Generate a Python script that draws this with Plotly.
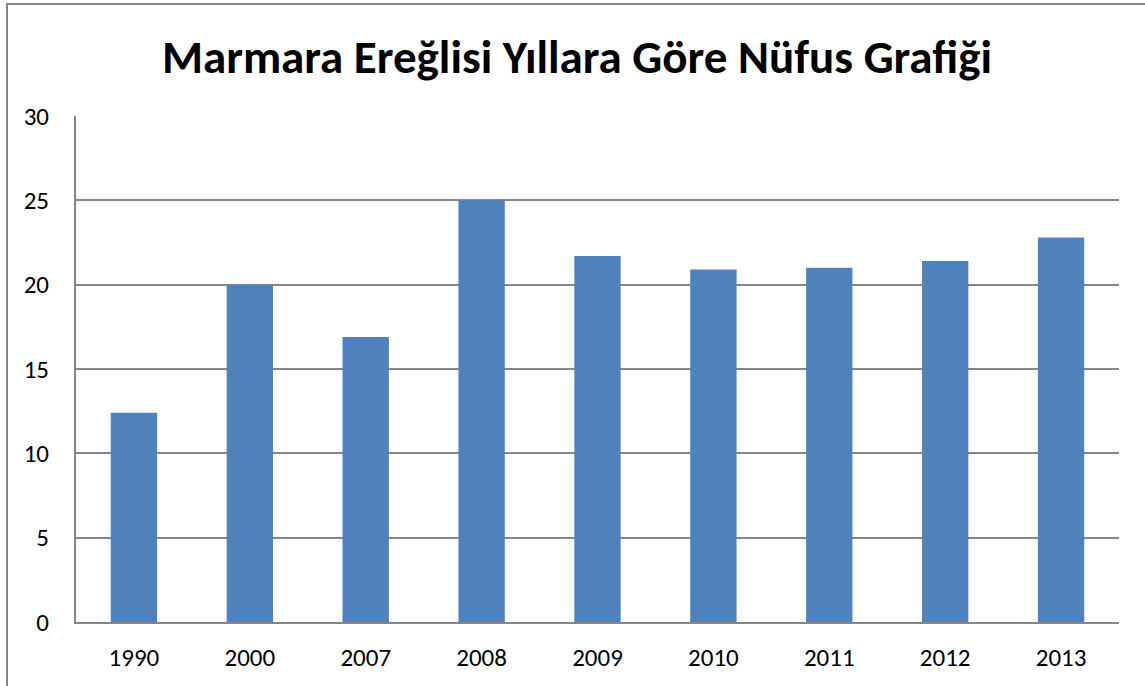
import plotly.graph_objects as go

years = ["1990", "2000", "2007", "2008", "2009", "2010", "2011", "2012", "2013"]
population = [12.4, 20.0, 16.9, 25.0, 21.7, 20.9, 21.0, 21.4, 22.8]
y_ticks = [0, 5, 10, 15, 20, 25, 30]
title_text = "Marmara Ereğlisi Yıllara Göre Nüfus Grafiği"

W, H = 1145, 686
L, R, T, B = 76, 1119, 116, 622
pw, ph = R - L, B - T

fig = go.Figure(go.Bar(x=years, y=population, marker=dict(color="#4F81BD", line=dict(width=0))))

fig.update_layout(
    width=W, height=H,
    margin=dict(l=L, r=W - R, t=T, b=H - B, autoexpand=False),
    paper_bgcolor="white", plot_bgcolor="white",
    font=dict(family="Carlito, Lato, sans-serif", size=25, color="black"),
    title=dict(text="<b>" + title_text + "</b>", x=577 / W, xref="container", xanchor="center",
               y=1 - 57 / H, yanchor="middle", font=dict(size=47, family="Carlito, Lato, sans-serif")),
    bargap=0.6,
    showlegend=False,
)
fig.update_yaxes(range=[0, 30], tickvals=y_ticks, showgrid=True, gridcolor="#868686", gridwidth=2,
                 showline=True, linecolor="#868686", linewidth=2, zeroline=False,
                 ticks="", ticklabelstandoff=20, automargin=False)
fig.update_xaxes(showline=True, linecolor="#868686", linewidth=2, ticks="", ticklabelstandoff=12,
                 type="category", automargin=False)

fig.add_shape(type="rect", xref="paper", yref="paper",
              x0=(7 - L) / pw, x1=(W + 20 - L) / pw,
              y0=-(H + 20 - B) / ph, y1=1 + (T - 4) / ph,
              line=dict(color="#868686", width=2), fillcolor="rgba(0,0,0,0)", layer="below")

fig.write_html("out.html", config={"displayModeBar": False},
               post_script="document.body.style.margin='0';document.body.style.overflow='hidden';")
